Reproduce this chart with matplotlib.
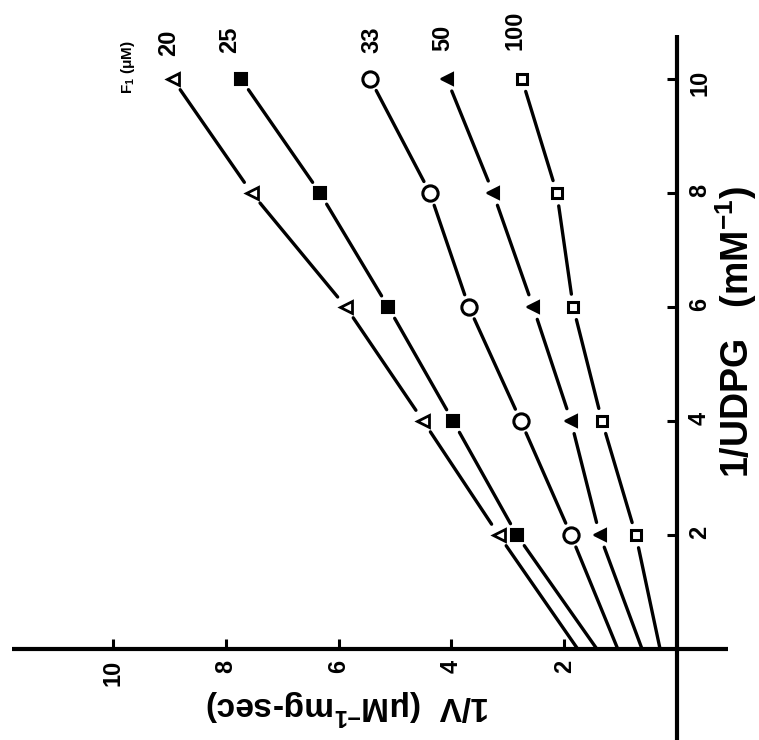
import numpy as np
import matplotlib
matplotlib.use("Agg")
import matplotlib.pyplot as plt

plt.rcParams['font.family'] = ['Liberation Sans', 'DejaVu Sans']
plt.rcParams['font.weight'] = 'bold'
plt.rcParams['mathtext.default'] = 'regular'

# 1/UDPG (mM^-1) values at which 1/V was measured
udpg_inv = [2, 4, 6, 8, 10]

# 1/V (uM^-1 mg-sec) for each fructose-1 concentration (uM)
f1_levels = ["20", "25", "33", "50", "100"]
v_inv_20 = [3.16, 4.50, 5.87, 7.54, 8.94]
v_inv_25 = [2.84, 3.97, 5.12, 6.33, 7.73]
v_inv_33 = [1.88, 2.77, 3.69, 4.38, 5.44]
v_inv_50 = [1.37, 1.88, 2.55, 3.26, 4.08]
v_inv_100 = [0.73, 1.33, 1.84, 2.13, 2.75]

# extrapolated 1/V at 1/UDPG = 0 for each line
v_inv_zero = [1.76, 1.42, 1.05, 0.62, 0.30]

tick_values = [2, 4, 6, 8, 10]

series = [
    (v_inv_20, dict(marker='<', mfc='white', mec='black', ms=8, mew=2.0)),
    (v_inv_25, dict(marker='s', mfc='black', mec='black', ms=8, mew=1.5)),
    (v_inv_33, dict(marker='o', mfc='white', mec='black', ms=11, mew=2.2)),
    (v_inv_50, dict(marker='<', mfc='black', mec='black', ms=8, mew=1.5)),
    (v_inv_100, dict(marker='s', mfc='white', mec='black', ms=7, mew=2.2)),
]

fig = plt.figure(figsize=(7.59, 7.40), dpi=100)
ax = fig.add_axes([0, 0, 1, 1])
ax.patch.set_alpha(0)

# Plot is laid out turned a quarter turn: 1/V runs right-to-left along the
# bottom, 1/UDPG runs upward on the right.
ax.set_xlim(12.004, -1.454)
ax.set_ylim(-1.596, 11.386)

for side in ('top', 'left'):
    ax.spines[side].set_visible(False)
ax.spines['bottom'].set_position(('data', 0))
ax.spines['bottom'].set_bounds(-0.9, 11.79)
ax.spines['right'].set_position(('data', 0))
ax.spines['right'].set_bounds(-1.6, 10.77)
for side in ('bottom', 'right'):
    ax.spines[side].set_linewidth(3.0)
    ax.spines[side].set_capstyle('butt')

ax.yaxis.tick_right()
ax.set_xticks(tick_values)
ax.set_yticks(tick_values)
ax.set_xticklabels([str(t) for t in tick_values], rotation=90)
ax.set_yticklabels([str(t) for t in tick_values], rotation=90)
ax.tick_params(direction='in', length=7, width=2.2, pad=8, labelsize=17)

ax.set_xlabel("1/V  (μM$^{-1}$mg-sec)", fontsize=24, fontweight='bold',
              rotation=180, ha='center', va='center')
ax.xaxis.set_label_coords(0.458, 0.0446)
ax.yaxis.set_label_position('right')
ax.set_ylabel("1/UDPG   (mM$^{-1}$)", fontsize=27, fontweight='bold',
              rotation=90, ha='center', va='center')
ax.yaxis.set_label_coords(0.970, 0.551)

# Lines from the 1/UDPG = 0 value through each point, broken around points.
gap = 13.0
trans = ax.transData
inv = trans.inverted()
u = np.array(udpg_inv, dtype=float)
for (vals, style), v0 in zip(series, v_inv_zero):
    v = np.array(vals, dtype=float)
    u_line = np.concatenate([[0.0], u])
    v_line = np.concatenate([[v0], v])
    pts = trans.transform(np.column_stack([v_line, u_line]))
    for i in range(len(pts) - 1):
        p0, p1 = pts[i], pts[i + 1]
        d = p1 - p0
        step = d / np.hypot(*d)
        a = p0 + step * gap if i > 0 else p0
        b = p1 - step * gap
        seg = inv.transform(np.vstack([a, b]))
        ax.plot(seg[:, 0], seg[:, 1], color='black', lw=2.4,
                solid_capstyle='round', zorder=2)
    ax.plot(v, u, linestyle='none', zorder=3, **style)

# Concentration labels above the top points
label_pos = [(9.02, 10.63), (7.93, 10.68), (5.41, 10.68), (4.15, 10.72), (2.87, 10.86)]
for text, (lx, ly) in zip(f1_levels, label_pos):
    ax.text(lx, ly, text, rotation=90, ha='center', va='center',
            fontsize=17, fontweight='bold')
ax.text(9.73, 10.2, "F$_1$ (μM)", rotation=90, ha='center', va='center',
        fontsize=11, fontweight='bold')

fig.savefig("out.png", dpi=100, facecolor='white')
